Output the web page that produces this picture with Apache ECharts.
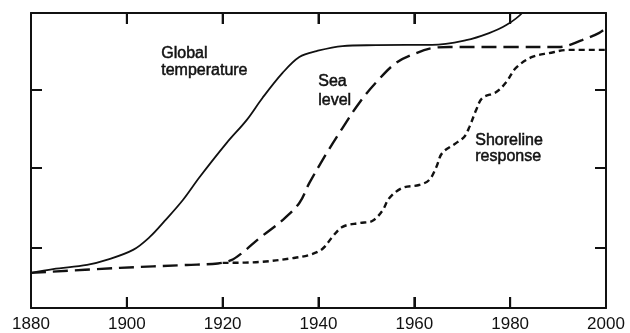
<!DOCTYPE html>
<html>
<head>
<meta charset="utf-8">
<script src="https://cdn.jsdelivr.net/npm/echarts@6/dist/echarts.min.js"></script>
<style>
html,body{margin:0;padding:0;background:#fff;}
#c{width:630px;height:333px;}
</style>
</head>
<body>
<div id="c"></div>
<script>
// Years shown on the x axis
const xTicks = [1880, 1900, 1920, 1940, 1960, 1980, 2000];
// Unlabelled y tick positions (relative units, 0 at bottom, 100 at top)
const yTicks = [20.5, 47.5, 74];

// Global temperature (solid)
const tempYears = [1880, 1884.6, 1891.7, 1895.8, 1901.3, 1904.8, 1907.9, 1911.7, 1915.2, 1920.8, 1925, 1928.3, 1932.5, 1936, 1939.6, 1945, 1952, 1958.3, 1963.7, 1970.8, 1975.6, 1979.2, 1982.5, 1985];
const tempVals  = [11.9, 13.2, 14.6, 16.3, 19.7, 24.1, 29.5, 36.6, 44.4, 55.9, 63.7, 71.2, 79.7, 85.1, 87.1, 88.8, 89.1, 89.2, 89.2, 90.8, 93.2, 95.9, 100, 106];

// Sea level (long dash)
const seaYears = [1880, 1898.5, 1912.5, 1919, 1921.8, 1924, 1927.7, 1932.5, 1936, 1938.1, 1941.7, 1945, 1948.5, 1952.1, 1956.2, 1960.4, 1963.7, 1967.3, 1980, 1990.2, 1995, 1998.5, 2000];
const seaVals  = [11.9, 13.6, 14.6, 15.1, 16.2, 18.6, 23.7, 29.8, 35.6, 42.4, 52.5, 61.0, 69.5, 76.6, 83.1, 86.4, 88.1, 88.5, 88.5, 88.5, 90.8, 93.2, 94.9];

// Shoreline response (short dash)
const shoreYears = [1920, 1927.7, 1934.6, 1938.1, 1940.8, 1942.9, 1945, 1948.5, 1951.2, 1953.3, 1954.8, 1957.5, 1961, 1963.1, 1964.6, 1965.8, 1968.7, 1970.4, 1971.5, 1972.9, 1974.2, 1977.1, 1979.2, 1981.2, 1984.6, 1988.1, 1992.3, 2000];
const shoreVals  = [15.3, 15.6, 16.9, 18.0, 20.0, 24.1, 27.5, 28.8, 29.5, 32.9, 37.3, 40.7, 41.7, 43.4, 47.8, 52.5, 55.9, 58.0, 61.4, 67.1, 71.2, 73.2, 76.6, 81.4, 85.1, 86.4, 87.5, 87.5];

// Curve labels
const labelTexts = ['Global\ntemperature', 'Sea\nlevel', 'Shoreline\nresponse'];

const pair = (xs, ys) => xs.map((x, i) => [x, ys[i]]);
const ink = '#111';
const font = 'Liberation Sans, Arial, Helvetica, sans-serif';
const Y_MIN = 0, Y_MAX = 100;

const chart = echarts.init(document.getElementById('c'));

const axisLine = () => ({show: true, onZero: false, lineStyle: {color: ink, width: 2}});
const tick = (extra) => Object.assign({show: true, inside: true, length: 11, lineStyle: {color: ink, width: 2}}, extra || {});
const labelStyle = {fill: ink, stroke: ink, lineWidth: 0.5};

chart.setOption({
  animation: false,
  grid: {left: 31, right: 24, top: 13, bottom: 25},
  xAxis: [
    {type: 'value', position: 'bottom', min: xTicks[0], max: xTicks[xTicks.length - 1], interval: 20,
     axisLine: axisLine(), axisTick: tick(), splitLine: {show: false},
     axisLabel: {show: true, color: ink, fontFamily: font, fontSize: 17, margin: 8,
                 formatter: v => String(v)}},
    {type: 'value', position: 'top', min: xTicks[0], max: xTicks[xTicks.length - 1], interval: 20,
     axisLine: axisLine(), axisTick: tick(), splitLine: {show: false}, axisLabel: {show: false}}
  ],
  yAxis: [
    {type: 'value', position: 'left', min: Y_MIN, max: Y_MAX,
     axisLine: axisLine(), axisTick: tick({customValues: yTicks}), splitLine: {show: false}, axisLabel: {show: false}},
    {type: 'value', position: 'right', min: Y_MIN, max: Y_MAX,
     axisLine: axisLine(), axisTick: tick({customValues: yTicks}), splitLine: {show: false}, axisLabel: {show: false}}
  ],
  series: [
    {name: 'Global temperature', type: 'line', data: pair(tempYears, tempVals), smooth: 0.35, symbol: 'none', clip: true,
     lineStyle: {color: ink, width: 1.8}},
    {name: 'Sea level', type: 'line', data: pair(seaYears, seaVals), smooth: 0.35, symbol: 'none', clip: true,
     lineStyle: {color: ink, width: 2.4, type: [15, 7]}},
    {name: 'Shoreline response', type: 'line', data: pair(shoreYears, shoreVals), smooth: 0.35, symbol: 'none', clip: true,
     lineStyle: {color: ink, width: 2.4, type: [6, 4]}}
  ]
});

// Text labels plus inward tick marks on the bottom and top frame,
// positioned through the chart's own x/y scales.
const graphics = [
  {type: 'text', left: 161, top: 45, z: 10, style: Object.assign({text: labelTexts[0], font: '16px ' + font, lineHeight: 17}, labelStyle)},
  {type: 'text', left: 318, top: 72, z: 10, style: Object.assign({text: labelTexts[1], font: '16px ' + font, lineHeight: 19}, labelStyle)},
  {type: 'text', left: 475, top: 132, z: 10, style: Object.assign({text: labelTexts[2], font: '16px ' + font, lineHeight: 16}, labelStyle)}
];
const TICK_PX = 11;
xTicks.slice(1, -1).forEach(yr => {
  const pb = chart.convertToPixel({xAxisIndex: 0, yAxisIndex: 0}, [yr, Y_MIN]);
  const pt = chart.convertToPixel({xAxisIndex: 0, yAxisIndex: 0}, [yr, Y_MAX]);
  if (!pb || !pt) return;
  graphics.push({type: 'line', silent: true, z: 10,
    shape: {x1: pb[0], y1: pb[1], x2: pb[0], y2: pb[1] - TICK_PX}, style: {stroke: ink, lineWidth: 2}});
  graphics.push({type: 'line', silent: true, z: 10,
    shape: {x1: pt[0], y1: pt[1], x2: pt[0], y2: pt[1] + TICK_PX}, style: {stroke: ink, lineWidth: 2}});
});
chart.setOption({graphic: graphics});
</script>
</body>
</html>
